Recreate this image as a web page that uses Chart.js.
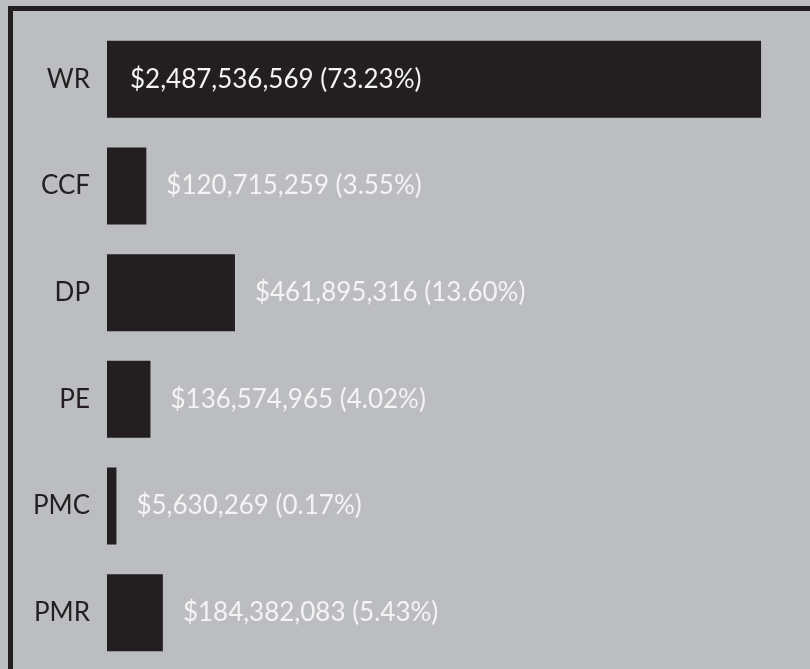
<!DOCTYPE html>
<html>
<head>
<meta charset="utf-8">
<script src="https://cdn.jsdelivr.net/npm/chart.js@4.4.1/dist/chart.umd.min.js"></script>
<style>
  html, body { margin: 0; padding: 0; background: #bcbdc0; overflow: hidden; }
  #frame {
    position: absolute; left: 8px; top: 6px;
    width: 900px; height: 800px;
    border-top: 5px solid #231f20; border-left: 5px solid #231f20;
  }
  #wrap { position: absolute; left: 0; top: 0; width: 810px; height: 669px; }
</style>
</head>
<body>
<div id="frame"></div>
<div id="wrap"><canvas id="chart"></canvas></div>
<script>
const categories = ['WR', 'CCF', 'DP', 'PE', 'PMC', 'PMR'];
const amounts = [2487536569, 120715259, 461895316, 136574965, 5630269, 184382083];

// bars start a little left of zero, like the original
const axisMin = -30.8e6;
const axisMax = 2599e6;

const ink = '#231f20';
const total = amounts.reduce((a, b) => a + b, 0);

function labelFor(v) {
  return '$' + v.toLocaleString('en-US') + ' (' + (v / total * 100).toFixed(2) + '%)';
}

const valueLabels = {
  id: 'valueLabels',
  afterDatasetsDraw(chart) {
    const ctx = chart.ctx;
    const meta = chart.getDatasetMeta(0);
    ctx.save();
    ctx.font = "26px Lato";
    ctx.fillStyle = '#f4f4f4';
    ctx.textBaseline = 'middle';
    ctx.textAlign = 'left';
    meta.data.forEach((bar, i) => {
      const txt = labelFor(amounts[i]);
      const w = ctx.measureText(txt).width;
      let x = bar.x + 20;
      if (x + w > chart.chartArea.right) x = bar.base + 23;
      ctx.fillText(txt, x, bar.y);
    });
    ctx.restore();
  }
};

new Chart(document.getElementById('chart'), {
  type: 'bar',
  data: {
    labels: categories,
    datasets: [{
      data: amounts,
      backgroundColor: ink,
      base: axisMin,
      barPercentage: 0.722,
      categoryPercentage: 1
    }]
  },
  options: {
    indexAxis: 'y',
    responsive: true,
    maintainAspectRatio: false,
    animation: false,
    layout: { padding: { top: 26, bottom: 3, right: 20, left: 0 } },
    plugins: { legend: { display: false }, tooltip: { enabled: false } },
    scales: {
      x: { display: false, min: axisMin, max: axisMax },
      y: {
        grid: { display: false, drawTicks: true, tickLength: 17 },
        border: { display: false },
        ticks: { color: ink, font: { family: 'Lato', size: 26 }, padding: 0 },
        afterFit(scale) {
          scale.width = 107;
          scale.paddingTop = 0;
          scale.paddingBottom = 0;
        }
      }
    }
  },
  plugins: [valueLabels]
});
</script>
</body>
</html>
